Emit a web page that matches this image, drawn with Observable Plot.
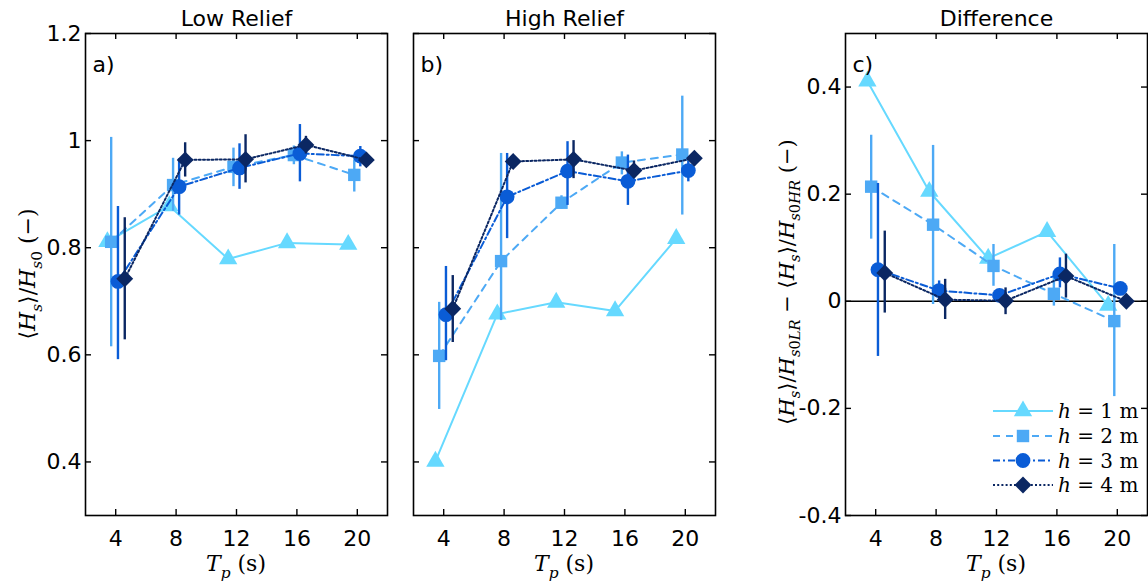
<!DOCTYPE html>
<html><head><meta charset="utf-8">
<script src="https://cdn.jsdelivr.net/npm/d3@7"></script>
<script src="https://cdn.jsdelivr.net/npm/@observablehq/plot@0.6"></script>
<style>
html,body{margin:0;padding:0;background:#fff;}
#chart{position:relative;width:1148px;height:585px;overflow:hidden;background:#fff;}
#chart svg{position:absolute;top:0;}
</style></head><body><div id="chart"></div>
<script>
// ---- series styling ----
const seriesDepths = ["1", "2", "3", "4"];
const seriesColors = ["#66D9FF", "#4DA9F5", "#0A5CD6", "#0B2763"];
const seriesSymbols = ["triangle", "square", "circle", "diamond2"];
const seriesR = [6.8, 7.0, 7.4, 7.6];
const seriesDash = [null, "7,6", "7,3,2,3", "2,2.2"];

// ---- x positions (Tp, s) per series (offset in the original figure) ----
const tpH1 = [3.45, 7.55, 11.45, 15.35, 19.4];
const tpH2 = [3.7, 7.8, 11.8, 15.8, 19.8];
const tpH3 = [4.15, 8.2, 12.2, 16.2, 20.2];
const tpH4 = [4.6, 8.6, 12.6, 16.6, 20.6];
const tpTicks = [4, 8, 12, 16, 20];

// ---- a) Low Relief ----
const lowH1 = [0.811, 0.878, 0.779, 0.809, 0.806];
const lowH2 = [0.811, 0.917, 0.951, 0.973, 0.936];
const lowH2Lo = [0.615, 0.868, 0.914, 0.955, 0.904];
const lowH2Hi = [1.006, 0.967, 0.986, 0.99, 0.964];
const lowH3 = [0.737, 0.914, 0.949, 0.976, 0.971];
const lowH3Lo = [0.591, 0.861, 0.909, 0.923, 0.951];
const lowH3Hi = [0.877, 0.966, 0.994, 1.03, 0.989];
const lowH4 = [0.742, 0.964, 0.965, 0.992, 0.964];
const lowH4Lo = [0.628, 0.932, 0.921, 0.975, 0.955];
const lowH4Hi = [0.856, 0.996, 1.011, 1.008, 0.975];

// ---- b) High Relief ----
const highH1 = [0.401, 0.676, 0.698, 0.682, 0.817];
const highH2 = [0.598, 0.775, 0.884, 0.959, 0.974];
const highH2Lo = [0.498, 0.664, 0.872, 0.936, 0.861];
const highH2Hi = [0.698, 0.976, 0.897, 0.979, 1.083];
const highH3 = [0.675, 0.895, 0.943, 0.924, 0.944];
const highH3Lo = [0.589, 0.817, 0.879, 0.879, 0.923];
const highH3Hi = [0.765, 0.976, 0.998, 0.973, 0.961];
const highH4 = [0.686, 0.961, 0.965, 0.944, 0.967];
const highH4Lo = [0.623, 0.955, 0.929, 0.93, 0.96];
const highH4Hi = [0.748, 0.968, 1.0, 0.962, 0.975];

// ---- c) Difference ----
const diffH1 = [0.411, 0.205, 0.080, 0.130, -0.008];
const diffH2 = [0.214, 0.143, 0.066, 0.014, -0.037];
const diffH2Lo = [0.116, -0.006, 0.028, -0.009, -0.178];
const diffH2Hi = [0.31, 0.291, 0.106, 0.055, 0.106];
const diffH3 = [0.059, 0.020, 0.011, 0.051, 0.024];
const diffH3Lo = [-0.103, 0.0, 0.0, 0.025, 0.015];
const diffH3Hi = [0.22, 0.038, 0.02, 0.081, 0.033];
const diffH4 = [0.053, 0.003, 0.001, 0.047, 0.0];
const diffH4Lo = [-0.022, -0.034, -0.025, 0.006, -0.01];
const diffH4Hi = [0.131, 0.041, 0.025, 0.088, 0.01];

const ratioTicks = [0.4, 0.6, 0.8, 1, 1.2];
const diffTicks = [-0.4, -0.2, 0, 0.2, 0.4];

const SANS = "'DejaVu Sans', Arial, sans-serif";
const SERIF = "'DejaVu Serif', 'Liberation Serif', serif";
const FS = 22;
const H = 585, MT = 33, MB = 70, FW = 302, FH = H - MT - MB;

function rowsOf(x, y, lo, hi) {
  return x.map((t, i) => ({t, v: y[i], lo: lo ? lo[i] : null, hi: hi ? hi[i] : null}));
}

function addMath(sel, parts, size) {
  let shift = 0;
  for (const [txt, st] of parts) {
    const sub = st.startsWith("s");
    const ts = sel.append("tspan").text(txt)
      .attr("font-style", st.endsWith("i") ? "italic" : "normal")
      .attr("font-size", sub ? size * 0.7 : size);
    const target = sub ? size * 0.3 : 0;
    if (target !== shift) { ts.attr("dy", target - shift); shift = target; }
  }
}

function panel({left, width, ml, mr, yDomain, yTicks, showY, title, letter, series, zero}) {
  const marks = [];
  if (zero) marks.push(Plot.ruleY([0], {stroke: "black", strokeWidth: 1.4}));
  series.forEach((s, k) => {
    const rows = rowsOf(s.x, s.y, s.lo, s.hi);
    if (s.lo) marks.push(Plot.ruleX(rows, {x: "t", y1: "lo", y2: "hi", stroke: seriesColors[k], strokeWidth: 2.4}));
    marks.push(Plot.line(rows, {x: "t", y: "v", stroke: seriesColors[k], strokeWidth: 2, strokeDasharray: seriesDash[k]}));
    marks.push(Plot.dot(rows, {x: "t", y: "v", symbol: seriesSymbols[k], r: seriesR[k], fill: seriesColors[k], stroke: "none"}));
  });
  const tk = {stroke: "black", strokeWidth: 1.4};
  marks.push(
    Plot.tickY(yTicks, {y: d => d, insetRight: FW - 6, ...tk}),
    Plot.tickY(yTicks, {y: d => d, insetLeft: FW - 6, ...tk}),
    Plot.tickX(tpTicks, {x: d => d, insetTop: FH - 6, ...tk}),
    Plot.tickX(tpTicks, {x: d => d, insetBottom: FH - 6, ...tk}),
    Plot.axisX({ticks: tpTicks, anchor: "bottom", tickSize: 0, tickPadding: 15, label: null, fontSize: FS, tickFormat: d => String(d)}),
    Plot.text([title], {text: d => d, frameAnchor: "top", lineAnchor: "bottom", dy: -8, fontSize: FS, fill: "black"}),
    Plot.text([letter], {text: d => d, frameAnchor: "top-left", textAnchor: "start", lineAnchor: "bottom", dx: 7, dy: 38, fontSize: FS, fill: "black"}),
    Plot.frame({stroke: "black", strokeWidth: 1.6})
  );
  if (showY) marks.push(Plot.axisY({ticks: yTicks, anchor: "left", tickSize: 0, tickPadding: 4, label: null, fontSize: FS, tickFormat: d => String(d)}));
  const svg = Plot.plot({
    width, height: H, marginLeft: ml, marginRight: mr, marginTop: MT, marginBottom: MB,
    x: {domain: [2, 22]},
    y: {domain: yDomain, axis: showY ? undefined : null},
    style: {fontFamily: SANS, fontSize: FS + "px", color: "black", background: "transparent", overflow: "visible"},
    marks
  });
  svg.style.left = left + "px";
  document.getElementById("chart").appendChild(svg);
  // x label
  const xl = d3.select(svg).append("text")
    .attr("x", ml + FW / 2).attr("y", 571).attr("text-anchor", "middle")
    .attr("font-family", SERIF).attr("fill", "black");
  addMath(xl, [["T", "i"], ["p", "si"], ["\u00A0(s)", "r"]], 22);
  return svg;
}

const svgA = panel({left: 0, width: 400, ml: 85, mr: 13, yDomain: [0.3, 1.2], yTicks: ratioTicks, showY: true,
  title: "Low Relief", letter: "a)",
  series: [
    {x: tpH1, y: lowH1},
    {x: tpH2, y: lowH2, lo: lowH2Lo, hi: lowH2Hi},
    {x: tpH3, y: lowH3, lo: lowH3Lo, hi: lowH3Hi},
    {x: tpH4, y: lowH4, lo: lowH4Lo, hi: lowH4Hi}]});

const svgB = panel({left: 400, width: 330, ml: 13, mr: 15, yDomain: [0.3, 1.2], yTicks: ratioTicks, showY: false,
  title: "High Relief", letter: "b)",
  series: [
    {x: tpH1, y: highH1},
    {x: tpH2, y: highH2, lo: highH2Lo, hi: highH2Hi},
    {x: tpH3, y: highH3, lo: highH3Lo, hi: highH3Hi},
    {x: tpH4, y: highH4, lo: highH4Lo, hi: highH4Hi}]});

const svgC = panel({left: 740, width: 408, ml: 105, mr: 1, yDomain: [-0.4, 0.5], yTicks: diffTicks, showY: true,
  title: "Difference", letter: "c)", zero: true,
  series: [
    {x: tpH1, y: diffH1},
    {x: tpH2, y: diffH2, lo: diffH2Lo, hi: diffH2Hi},
    {x: tpH3, y: diffH3, lo: diffH3Lo, hi: diffH3Hi},
    {x: tpH4, y: diffH4, lo: diffH4Lo, hi: diffH4Hi}]});

// y labels
const ylA = d3.select(svgA).append("text")
  .attr("transform", `translate(35,${MT + FH / 2}) rotate(-90)`)
  .attr("text-anchor", "middle").attr("font-family", SERIF).attr("fill", "black");
addMath(ylA, [["\u27E8", "r"], ["H", "i"], ["s", "si"], ["\u27E9/", "r"], ["H", "i"], ["s", "si"], ["0", "sr"], ["\u00A0(\u2212)", "r"]], 22);

const ylC = d3.select(svgC).append("text")
  .attr("transform", `translate(54,${MT + FH / 2 + 8}) rotate(-90)`)
  .attr("text-anchor", "middle").attr("font-family", SERIF).attr("fill", "black");
addMath(ylC, [["\u27E8", "r"], ["H", "i"], ["s", "si"], ["\u27E9/", "r"], ["H", "i"], ["s", "si"], ["0", "sr"], ["LR", "si"],
  ["\u00A0\u2212\u00A0\u27E8", "r"], ["H", "i"], ["s", "si"], ["\u27E9/", "r"], ["H", "i"], ["s", "si"], ["0", "sr"], ["HR", "si"], ["\u00A0(\u2212)", "r"]], 21);

// legend inside panel c
const lg = d3.select(svgC).append("g");
const legendY = [411, 436, 460.5, 485];
const legendSize = [Math.PI * 6.8 ** 2, Math.PI * 7.0 ** 2, Math.PI * 7.4 ** 2, Math.PI * 6.7 ** 2];
const symMap = {triangle: d3.symbolTriangle, square: d3.symbolSquare, circle: d3.symbolCircle, diamond2: d3.symbolSquare};
seriesDepths.forEach((h, k) => {
  const y = legendY[k];
  const x0 = 993 - 740, x1 = 1053 - 740, xm = 1023 - 740;
  lg.append("line").attr("x1", x0).attr("x2", x1).attr("y1", y).attr("y2", y)
    .attr("stroke", seriesColors[k]).attr("stroke-width", 2)
    .attr("stroke-dasharray", seriesDash[k] || null);
  lg.append("path").attr("d", d3.symbol(symMap[seriesSymbols[k]], legendSize[k])())
    .attr("fill", seriesColors[k])
    .attr("transform", `translate(${xm},${y})` + (seriesSymbols[k] === "diamond2" ? " rotate(45)" : ""));
  const t = lg.append("text").attr("x", 1058 - 740).attr("y", y + 7).attr("text-anchor", "start")
    .attr("font-family", SERIF).attr("fill", "black");
  addMath(t, [["h", "i"], ["\u00A0=\u00A0" + h + "\u00A0m", "r"]], 20);
});
</script></body></html>
